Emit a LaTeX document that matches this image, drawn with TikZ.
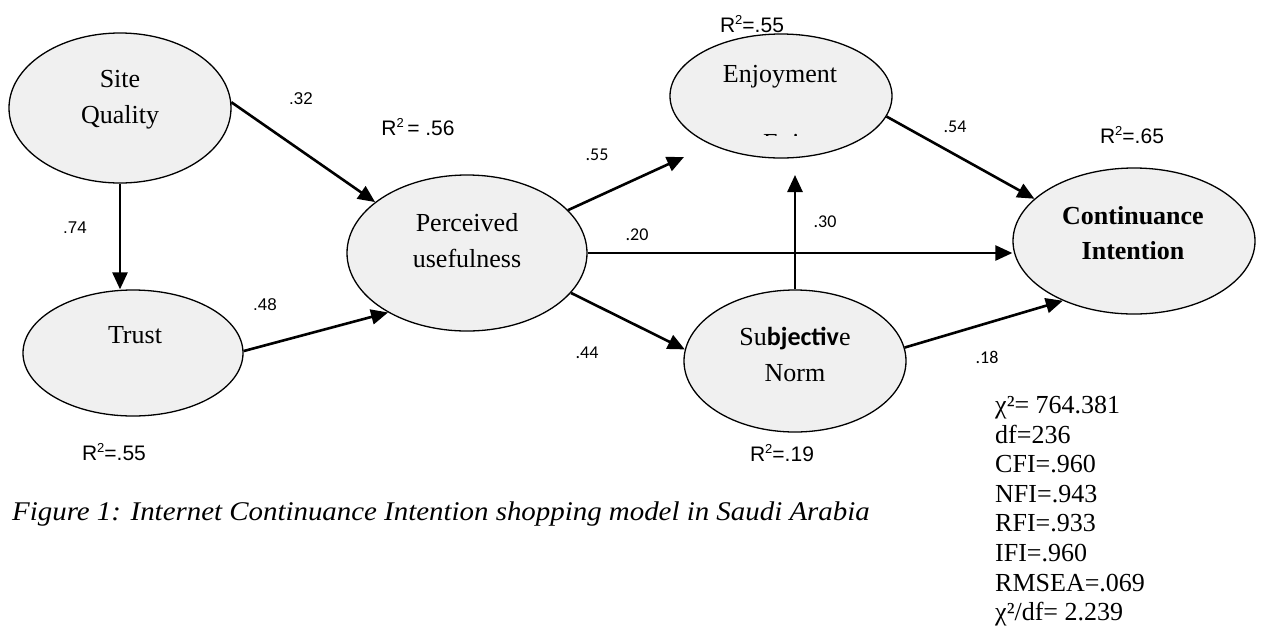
\documentclass[tikz,border=0pt]{standalone}
\usepackage{fontspec}
\setmainfont{Liberation Serif}
\newfontfamily\arialf{Liberation Sans}
\newfontfamily\calibf{Carlito}
\usetikzlibrary{shapes.geometric,arrows.meta}
\definecolor{efill}{HTML}{F0F0F0}
\newcommand{\rtwo}{\raisebox{8pt}{\fontsize{13}{13}\selectfont 2}}
\tikzset{
  lat/.style={ellipse, draw=black, line width=1.3pt, fill=efill, inner sep=0pt},
  ntext/.style={font=\fontsize{26}{36}\selectfont, align=center, inner sep=0pt},
  pathar/.style={line width=2.6pt, -{Triangle[length=17pt,width=15pt]}},
  coefa/.style={font=\arialf\fontsize{17}{17}\selectfont, inner sep=0pt},
  coefc/.style={font=\calibf\fontsize{18}{18}\selectfont, inner sep=0pt},
  rsq/.style={font=\arialf\fontsize{21}{21}\selectfont, inner sep=0pt, anchor=base},
  stat/.style={font=\fontsize{26}{29.6}\selectfont, align=left, inner sep=0pt, anchor=north west},
}
\begin{document}
\begin{tikzpicture}[x=1pt,y=-1pt]
\useasboundingbox (0,0) rectangle (1262,633);
% latent variables
\node[lat, minimum width=222pt, minimum height=150pt] (sq) at (120,108) {};
\node[lat, minimum width=220pt, minimum height=126pt] (tr) at (133,353) {};
\node[lat, minimum width=240pt, minimum height=156pt] (pu) at (467,253) {};
\node[lat, minimum width=222pt, minimum height=124pt] (en) at (781,96) {};
\node[lat, minimum width=222pt, minimum height=142pt] (sn) at (795,361) {};
\node[lat, minimum width=242pt, minimum height=146pt] (ci) at (1134,241) {};
% texts
\node[ntext] (sqt) at (120,100) {Site\\Quality};
\node[ntext] (trt) at (135,335) {Trust};
\node[ntext] (put) at (467,241) {Perceived\\usefulness};
\node[ntext] (ent) at (780,77) {Enjoyment};
\begin{scope}
  \clip (740,128) rectangle (830,135);
  \node[ntext, anchor=base west] (eng) at (763,151) {Enj};
\end{scope}
\node[ntext] (snt) at (795,354) {Su{\calibf\bfseries bjectiv}e\\Norm};
\node[ntext, font=\fontsize{26}{35}\selectfont\bfseries] (cit) at (1133,233) {Continuance\\Intention};
% free ends
\coordinate (enp) at (684,157);
\coordinate (snup) at (795,175);
% paths
\draw[pathar] (sq.3) -- (pu.151);
\draw[pathar] (sq.south) -- (sq.south |- tr.north);
\draw[pathar] (tr.1) -- (pu.217);
\draw[pathar] (pu.23) -- (enp);
\draw[pathar] (pu.east) -- (pu.east -| ci.west);
\draw[pathar] (pu.-21) -- (sn.174);
\draw[pathar] (sn.north) -- (snup);
\draw[pathar] (en.-11) -- (ci.157);
\draw[pathar] (sn.7) -- (ci.220);
% coefficients
\node[coefa] (c32) at (301,99) {.32};
\node[coefa] (c74) at (75,228) {.74};
\node[coefa] (c48) at (265,305) {.48};
\node[coefc] (c55) at (597,155) {.55};
\node[coefc] (c20) at (637,235) {.20};
\node[coefc] (c44) at (587,353) {.44};
\node[coefc] (c30) at (825,222) {.30};
\node[coefc] (c54) at (955,127) {.54};
\node[coefc] (c18) at (987,357) {.18};
% R squared
\node[rsq] (r56) at (418,135) {R\rtwo\,= .56};
\node[rsq] (r55a) at (114,460) {R\rtwo=.55};
\node[rsq] (r55b) at (752,32) {R\rtwo=.55};
\node[rsq] (r65) at (1132,143) {R\rtwo=.65};
\node[rsq] (r19) at (782,461) {R\rtwo=.19};
% caption
\node[inner sep=0pt, anchor=base west, font=\fontsize{27}{27}\selectfont\itshape] (cap) at (12,520) {\scalebox{1.07}[1]{Figure 1: Internet Continuance Intention shopping model in Saudi Arabia}};
% fit statistics
\node[stat] (fit) at (995,396) {χ²= 764.381\\df=236\\CFI=.960\\NFI=.943\\RFI=.933\\IFI=.960\\RMSEA=.069\\χ²/df= 2.239};
\end{tikzpicture}
\end{document}
